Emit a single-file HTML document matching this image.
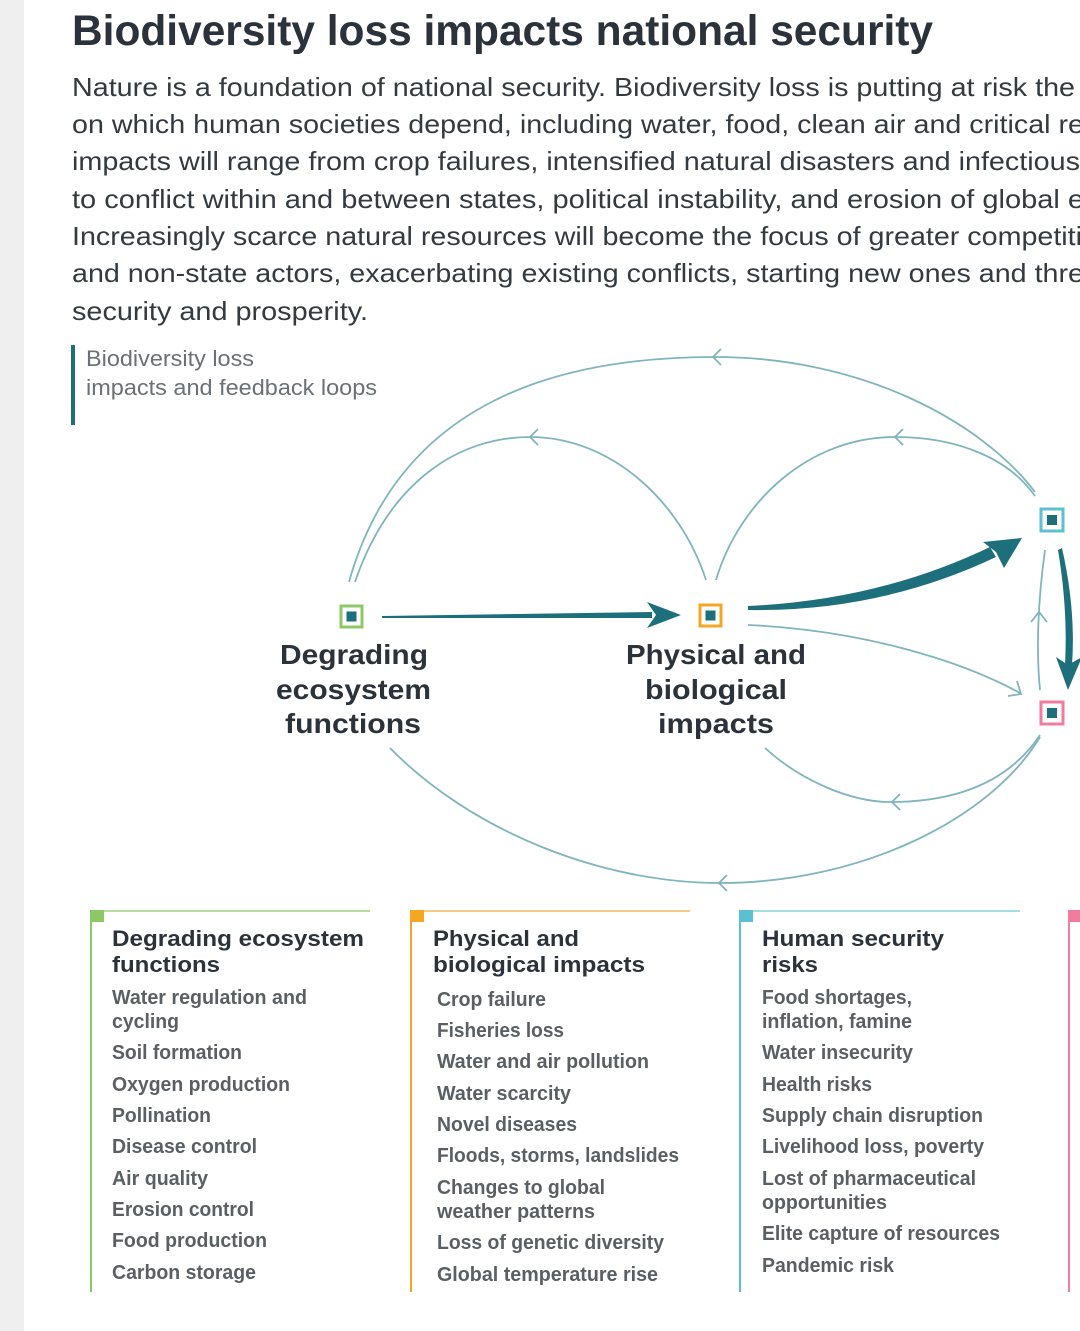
<!DOCTYPE html>
<html><head><meta charset="utf-8"><style>
html,body{margin:0;padding:0;background:#fff;}
svg{display:block;}
</style></head><body>
<svg width="1080" height="1331" viewBox="0 0 1080 1331" xmlns="http://www.w3.org/2000/svg" font-family="Liberation Sans, sans-serif">
<rect x="0" y="0" width="1080" height="1331" fill="#fff"/>
<rect x="0" y="0" width="24" height="1331" fill="#efefef"/>
<text x="72" y="45" font-size="43" font-weight="bold" fill="#2b323a" textLength="861" lengthAdjust="spacingAndGlyphs">Biodiversity loss impacts national security</text>
<g font-size="26" fill="#333a40">
<text x="72" y="96" textLength="1003" lengthAdjust="spacingAndGlyphs">Nature is a foundation of national security. Biodiversity loss is putting at risk the</text>
<text x="72" y="133" textLength="1012" lengthAdjust="spacingAndGlyphs">on which human societies depend, including water, food, clean air and critical re</text>
<text x="72" y="170" textLength="1008" lengthAdjust="spacingAndGlyphs">impacts will range from crop failures, intensified natural disasters and infectious</text>
<text x="72" y="208" textLength="1012" lengthAdjust="spacingAndGlyphs">to conflict within and between states, political instability, and erosion of global e</text>
<text x="72" y="245" textLength="1010" lengthAdjust="spacingAndGlyphs">Increasingly scarce natural resources will become the focus of greater competiti</text>
<text x="72" y="282" textLength="1012" lengthAdjust="spacingAndGlyphs">and non-state actors, exacerbating existing conflicts, starting new ones and thre</text>
<text x="72" y="320" textLength="296" lengthAdjust="spacingAndGlyphs">security and prosperity.</text>
</g>
<rect x="71" y="345" width="4" height="80" fill="#1f6f7a"/>
<g font-size="22" fill="#6a7075">
<text x="86" y="366" textLength="168" lengthAdjust="spacingAndGlyphs">Biodiversity loss</text>
<text x="86" y="395" textLength="291" lengthAdjust="spacingAndGlyphs">impacts and feedback loops</text>
</g>
<!-- thin arcs -->
<g fill="none" stroke="#7fb5bb" stroke-width="1.8">
<path d="M349,582 C400,400 560,357 715,357 C860,357 980,420 1035,492"/>
<path d="M355,582 C390,480 460,437 530,437 C610,437 680,500 706,580"/>
<path d="M716,580 C740,500 810,437 895,437 C960,437 1010,460 1035,496"/>
<path d="M390,748 C470,830 600,883 720,883 C860,883 990,820 1040,737"/>
<path d="M765,748 C800,780 850,802 890,802 C960,802 1010,780 1040,735"/>
<path d="M748,625 C860,630 960,660 1020,693"/>
<path d="M1045,550 C1038,600 1036,650 1040,690"/>
<path d="M721,349 L713,357 L721,365"/>
<path d="M538,429 L530,437 L538,445"/>
<path d="M903,429 L895,437 L903,445"/>
<path d="M727,875 L719,883 L727,891"/>
<path d="M900,794 L892,802 L900,810"/>
<path d="M1008,696 L1021,694 L1017,681"/>
<path d="M1031,622 L1039,612 L1047,622"/>
</g>
<!-- thick arrows -->
<g fill="#1d6f7b">
<path d="M382,616 L652,612 L652,618 L382,618 Z"/>
<path d="M647,602 L681,615 L647,628 L656,615 Z"/>
<path d="M748,606 Q880,600 990,547 L996,557 Q880,612 748,610 Z"/>
<path d="M1022,538 L983,542 L996,552 L1004,568 Z"/>
<path d="M1062,548 Q1076,610 1072,665 L1065,665 Q1068,610 1058,550 Z"/>
<path d="M1068,690 L1056,657 L1068,665 L1082,657 Z"/>
</g>
<!-- nodes -->
<g>
<rect x="341" y="606" width="21" height="21" fill="#fff" stroke="#8cc866" stroke-width="3"/>
<rect x="346.5" y="611.5" width="10" height="10" fill="#1d6f7b"/>
<rect x="700" y="605" width="21" height="21" fill="#fff" stroke="#f5a623" stroke-width="3"/>
<rect x="705.5" y="610.5" width="10" height="10" fill="#1d6f7b"/>
<rect x="1041" y="509" width="22" height="22" fill="#fff" stroke="#5bc0d0" stroke-width="3"/>
<rect x="1047" y="515" width="10" height="10" fill="#1d6f7b"/>
<rect x="1041" y="702" width="22" height="22" fill="#fff" stroke="#f07ca0" stroke-width="3"/>
<rect x="1047" y="708" width="10" height="10" fill="#1d6f7b"/>
</g>
<g font-size="28" font-weight="bold" fill="#2b323a">
<text x="280" y="664" textLength="148" lengthAdjust="spacingAndGlyphs">Degrading</text>
<text x="276" y="699" textLength="155" lengthAdjust="spacingAndGlyphs">ecosystem</text>
<text x="285" y="733" textLength="136" lengthAdjust="spacingAndGlyphs">functions</text>
<text x="626" y="664" textLength="180" lengthAdjust="spacingAndGlyphs">Physical and</text>
<text x="645" y="699" textLength="142" lengthAdjust="spacingAndGlyphs">biological</text>
<text x="658" y="733" textLength="116" lengthAdjust="spacingAndGlyphs">impacts</text>
</g>
<!-- boxes -->
<g>
<line x1="91" y1="911" x2="370" y2="911" stroke="#b6dd9d" stroke-width="2"/>
<line x1="91" y1="910" x2="91" y2="1292" stroke="#8cc866" stroke-width="2"/>
<rect x="90" y="910" width="14" height="12" fill="#8cc866"/>
<line x1="411" y1="911" x2="690" y2="911" stroke="#f8cc80" stroke-width="2"/>
<line x1="411" y1="910" x2="411" y2="1292" stroke="#f5a623" stroke-width="2"/>
<rect x="410" y="910" width="14" height="12" fill="#f5a623"/>
<line x1="740" y1="911" x2="1020" y2="911" stroke="#a6dde5" stroke-width="2"/>
<line x1="740" y1="910" x2="740" y2="1292" stroke="#5bc0d0" stroke-width="2"/>
<rect x="739" y="910" width="14" height="12" fill="#5bc0d0"/>
<line x1="1069" y1="911" x2="1080" y2="911" stroke="#f5b3c8" stroke-width="2"/>
<line x1="1069" y1="910" x2="1069" y2="1292" stroke="#f07ca0" stroke-width="2"/>
<rect x="1068" y="910" width="12" height="12" fill="#f07ca0"/>
</g>
<g font-size="22" font-weight="bold" fill="#2b323a">
<text x="112" y="946" textLength="252" lengthAdjust="spacingAndGlyphs">Degrading ecosystem</text>
<text x="112" y="972" textLength="108" lengthAdjust="spacingAndGlyphs">functions</text>
<text x="433" y="946" textLength="146" lengthAdjust="spacingAndGlyphs">Physical and</text>
<text x="433" y="972" textLength="212" lengthAdjust="spacingAndGlyphs">biological impacts</text>
<text x="762" y="946" textLength="182" lengthAdjust="spacingAndGlyphs">Human security</text>
<text x="762" y="972" textLength="56" lengthAdjust="spacingAndGlyphs">risks</text>
</g>
<g font-size="20" font-weight="bold" fill="#5a5f64">
<text x="112" y="1004" textLength="195" lengthAdjust="spacingAndGlyphs">Water regulation and</text>
<text x="112" y="1028" textLength="67" lengthAdjust="spacingAndGlyphs">cycling</text>
<text x="112" y="1059" textLength="130" lengthAdjust="spacingAndGlyphs">Soil formation</text>
<text x="112" y="1091" textLength="178" lengthAdjust="spacingAndGlyphs">Oxygen production</text>
<text x="112" y="1122" textLength="99" lengthAdjust="spacingAndGlyphs">Pollination</text>
<text x="112" y="1153" textLength="145" lengthAdjust="spacingAndGlyphs">Disease control</text>
<text x="112" y="1185" textLength="96" lengthAdjust="spacingAndGlyphs">Air quality</text>
<text x="112" y="1216" textLength="142" lengthAdjust="spacingAndGlyphs">Erosion control</text>
<text x="112" y="1247" textLength="155" lengthAdjust="spacingAndGlyphs">Food production</text>
<text x="112" y="1279" textLength="144" lengthAdjust="spacingAndGlyphs">Carbon storage</text>

<text x="437" y="1006" textLength="109" lengthAdjust="spacingAndGlyphs">Crop failure</text>
<text x="437" y="1037" textLength="127" lengthAdjust="spacingAndGlyphs">Fisheries loss</text>
<text x="437" y="1068" textLength="212" lengthAdjust="spacingAndGlyphs">Water and air pollution</text>
<text x="437" y="1100" textLength="134" lengthAdjust="spacingAndGlyphs">Water scarcity</text>
<text x="437" y="1131" textLength="140" lengthAdjust="spacingAndGlyphs">Novel diseases</text>
<text x="437" y="1162" textLength="242" lengthAdjust="spacingAndGlyphs">Floods, storms, landslides</text>
<text x="437" y="1194" textLength="168" lengthAdjust="spacingAndGlyphs">Changes to global</text>
<text x="437" y="1218" textLength="158" lengthAdjust="spacingAndGlyphs">weather patterns</text>
<text x="437" y="1249" textLength="227" lengthAdjust="spacingAndGlyphs">Loss of genetic diversity</text>
<text x="437" y="1281" textLength="221" lengthAdjust="spacingAndGlyphs">Global temperature rise</text>

<text x="762" y="1004" textLength="150" lengthAdjust="spacingAndGlyphs">Food shortages,</text>
<text x="762" y="1028" textLength="150" lengthAdjust="spacingAndGlyphs">inflation, famine</text>
<text x="762" y="1059" textLength="151" lengthAdjust="spacingAndGlyphs">Water insecurity</text>
<text x="762" y="1091" textLength="110" lengthAdjust="spacingAndGlyphs">Health risks</text>
<text x="762" y="1122" textLength="221" lengthAdjust="spacingAndGlyphs">Supply chain disruption</text>
<text x="762" y="1153" textLength="222" lengthAdjust="spacingAndGlyphs">Livelihood loss, poverty</text>
<text x="762" y="1185" textLength="214" lengthAdjust="spacingAndGlyphs">Lost of pharmaceutical</text>
<text x="762" y="1209" textLength="125" lengthAdjust="spacingAndGlyphs">opportunities</text>
<text x="762" y="1240" textLength="238" lengthAdjust="spacingAndGlyphs">Elite capture of resources</text>
<text x="762" y="1272" textLength="132" lengthAdjust="spacingAndGlyphs">Pandemic risk</text>
</g>
</svg>
</body></html>
